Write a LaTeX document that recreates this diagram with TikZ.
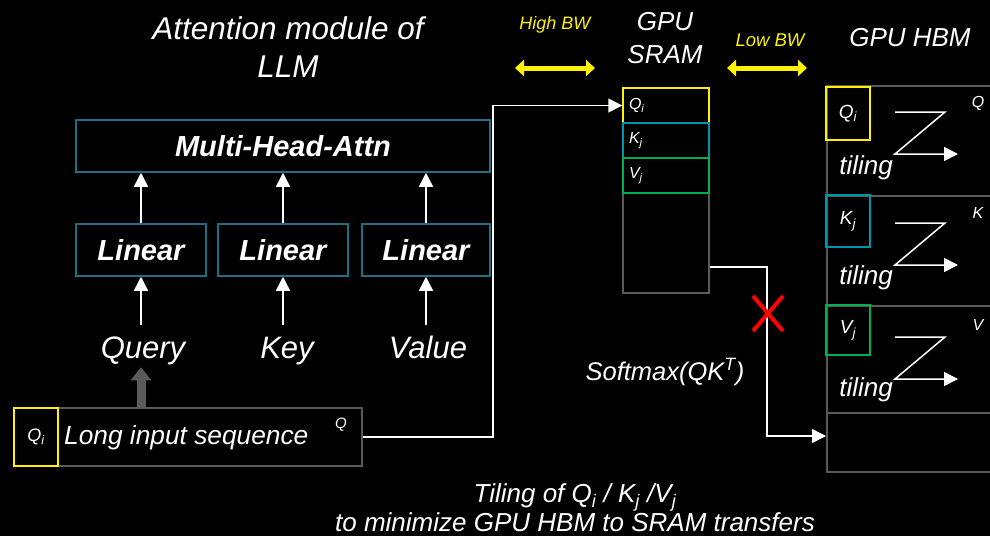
\documentclass[tikz,border=0pt]{standalone}
\usepackage{fontspec}
\setmainfont{Liberation Sans}
\usetikzlibrary{arrows.meta}

\definecolor{tealbox}{RGB}{31,110,130}
\definecolor{tealk}{RGB}{0,150,170}
\definecolor{greenv}{RGB}{0,176,80}
\definecolor{grayline}{RGB}{90,90,90}
\newcommand{\fsz}[2]{\fontsize{#1}{#2}\selectfont}

\begin{document}
\begin{tikzpicture}[x=1pt, y=-1pt,
    every node/.style={text=white, font=\itshape, inner sep=0pt},
    box/.style={draw=tealbox, line width=1.5pt},
    graybox/.style={draw=grayline, line width=1.5pt},
    arr/.style={white, line width=1.5pt, -{Triangle[length=14pt,width=14pt]}},
    bw/.style={yellow, line width=5pt, {Triangle[length=9pt,width=16pt]}-{Triangle[length=9pt,width=16pt]}}]
  % Background
  \fill[black] (0,0) rectangle (990,536);
  \useasboundingbox (0,0) rectangle (990,536);

  % Attention module
  \node[align=center, font=\itshape\fsz{31.5}{38}] (title) at (288,47) {Attention module of\\LLM};
  \node[box, minimum width=414pt, minimum height=52pt] (mha) at (283,146) {\fsz{29}{30}\bfseries Multi-Head-Attn};
  \node[box, minimum width=130pt, minimum height=52pt] (linq) at (141,250) {\fsz{29}{30}\bfseries Linear};
  \node[box, minimum width=130pt, minimum height=52pt] (link) at (283,250) {\fsz{29}{30}\bfseries Linear};
  \node[box, minimum width=128pt, minimum height=52pt] (linv) at (426,250) {\fsz{29}{30}\bfseries Linear};
  \node[anchor=base, font=\itshape\fsz{31}{32}] (query) at (143,358) {Query};
  \node[anchor=base, font=\itshape\fsz{31}{32}] (key) at (287,358) {Key};
  \node[anchor=base, font=\itshape\fsz{31}{32}] (value) at (428,358) {Value};
  \draw[arr] (linq |- 0,325) -- (linq.south);
  \draw[arr] (link |- 0,325) -- (link.south);
  \draw[arr] (linv |- 0,325) -- (linv.south);
  \draw[arr] (linq.north) -- (mha.south -| linq);
  \draw[arr] (link.north) -- (mha.south -| link);
  \draw[arr] (linv.north) -- (mha.south -| linv);

  % Input sequence
  \node[graybox, minimum width=348pt, minimum height=58pt] (input) at (188,437) {};
  \node[draw=yellow, line width=1.5pt, minimum width=44pt, minimum height=58pt, font=\itshape\fsz{18}{20}] (inqi) at (36,437) {Q\textsubscript{i}};
  \node[anchor=west, font=\itshape\fsz{26.3}{28}] (inlabel) at (64,438) {Long input sequence};
  \node[font=\itshape\fsz{15}{16}] (inq) at (341,425) {Q};
  \draw[grayline, line width=9pt, -{Triangle[length=13pt,width=20pt]}] (input.north -| linq) -- ++(0,-40);

  % GPU SRAM
  \draw[bw] (515,68) -- (595,68);
  \node[font=\itshape\fsz{18}{20}, text=yellow] (highbw) at (555,25) {High BW};
  \node[align=center, font=\itshape\fsz{26}{33}] (sramlabel) at (665,38) {GPU\\SRAM};
  \node[graybox, minimum width=86pt, minimum height=205pt] (sram) at (666,190.5) {};
  \node[draw=yellow, line width=1.5pt, minimum width=86pt, minimum height=35pt, text width=74pt, align=left, font=\itshape\fsz{16}{18}] (sramq) at (666,105.5) {Q\textsubscript{i}};
  \node[draw=tealk, line width=1.5pt, minimum width=86pt, minimum height=35pt, text width=74pt, align=left, font=\itshape\fsz{16}{18}] (sramk) at (666,140.5) {K\textsubscript{j}};
  \node[draw=greenv, line width=1.5pt, minimum width=86pt, minimum height=35pt, text width=74pt, align=left, font=\itshape\fsz{16}{18}] (sramv) at (666,175.5) {V\textsubscript{j}};
  \draw[arr] (input.east) -- (493,437) |- (sramq.west);

  % GPU HBM
  \draw[bw] (727,68) -- (807,68);
  \node[font=\itshape\fsz{18.5}{20}, text=yellow] (lowbw) at (770,40) {Low BW};
  \node[font=\itshape\fsz{26}{28}] (hbmlabel) at (910,38) {GPU HBM};
  \node[graybox, anchor=north west, minimum width=190pt, minimum height=110pt] (hbmq) at (826,85) {};
  \node[graybox, anchor=north west, minimum width=190pt, minimum height=110pt] (hbmk) at (826,195) {};
  \node[graybox, anchor=north west, minimum width=190pt, minimum height=107pt] (hbmv) at (826,305) {};
  \node[graybox, anchor=north west, minimum width=190pt, minimum height=59pt] (hbmo) at (826,412) {};
  \node[draw=yellow, line width=1.5pt, minimum width=44pt, minimum height=53pt, font=\itshape\fsz{19}{20}] (hbmqi) at (848,113.5) {Q\textsubscript{i}};
  \node[draw=tealk, line width=1.5pt, minimum width=44pt, minimum height=52pt, font=\itshape\fsz{19}{20}] (hbmkj) at (848,221) {K\textsubscript{j}};
  \node[draw=greenv, line width=1.5pt, minimum width=44pt, minimum height=50pt, font=\itshape\fsz{19}{20}] (hbmvj) at (848,330) {V\textsubscript{j}};
  \node[font=\itshape\fsz{16}{16}] (hbmqn) at (978,103) {Q};
  \node[font=\itshape\fsz{16}{16}] (hbmkn) at (978,213) {K};
  \node[font=\itshape\fsz{16}{16}] (hbmvn) at (978,325) {V};
  \foreach \y/\n in {168/q, 278/k, 390/v}
    \node[font=\itshape\fsz{26}{28}] (tiling\n) at (866,\y) {tiling};
  \foreach \y in {112, 223, 337}
    \draw[arr, line join=miter] (895,\y) -- (945,\y) -- (895,\y+42) -- (958,\y+42);

  % Softmax path
  \draw[arr] (sram.east |- 0,267) -- (767,267) -- (767,436) -- (hbmo.west |- 0,436);
  \draw[red, line width=4pt] (753,296) -- (783,331) (753,331) -- (783,296);
  \node[font=\itshape\fsz{25.5}{26}] (softmax) at (665,372) {Softmax(QK\textsuperscript{T})};

  % Caption
  \node[align=center, font=\itshape\fsz{26}{29}] (caption) at (575,508) {Tiling of Q\textsubscript{i} / K\textsubscript{j} /V\textsubscript{j}\\to minimize GPU HBM to SRAM transfers};
\end{tikzpicture}
\end{document}
